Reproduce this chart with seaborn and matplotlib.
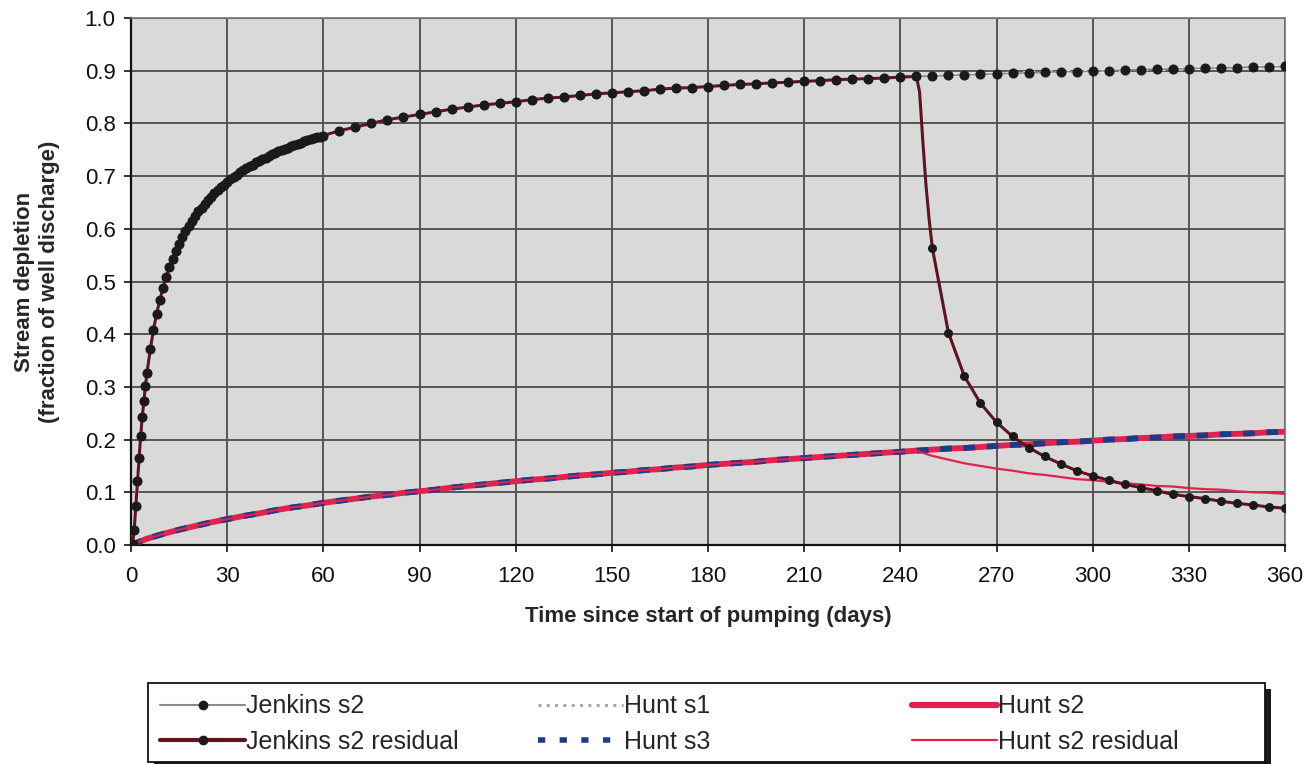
import numpy as np
import pandas as pd
import seaborn as sns
import matplotlib
matplotlib.use("Agg")
import matplotlib.pyplot as plt
from matplotlib.lines import Line2D
from matplotlib.patches import Rectangle

# ---------------- data ----------------
early_t = [0, 0.5, 1, 1.5, 2, 2.5, 3, 3.5, 4, 4.5, 5]
daily_t = list(range(6, 61))
late_t = list(range(65, 361, 5))
jenkins_t = early_t + daily_t + late_t

jenkins_s2 = [
    0.000, 0.002, 0.029, 0.074, 0.121, 0.166, 0.206, 0.242, 0.273, 0.302, 0.327,
    0.371, 0.408, 0.439, 0.465, 0.488, 0.509, 0.527, 0.543, 0.558, 0.572,
    0.584, 0.595, 0.606, 0.615, 0.624, 0.633, 0.640, 0.648, 0.655, 0.661,
    0.667, 0.673, 0.679, 0.684, 0.689, 0.694, 0.699, 0.703, 0.707, 0.711,
    0.715, 0.719, 0.722, 0.726, 0.729, 0.732, 0.735, 0.738, 0.741, 0.744,
    0.747, 0.749, 0.752, 0.754, 0.757, 0.759, 0.761, 0.763, 0.766, 0.768,
    0.770, 0.772, 0.774, 0.775, 0.777,
    0.786, 0.793, 0.800, 0.807, 0.812, 0.817, 0.822, 0.827, 0.831, 0.835,
    0.838, 0.841, 0.845, 0.848, 0.850, 0.853, 0.856, 0.858, 0.860, 0.862,
    0.865, 0.867, 0.868, 0.870, 0.872, 0.874, 0.875, 0.877, 0.878, 0.880,
    0.881, 0.883, 0.884, 0.885, 0.886, 0.888, 0.889, 0.890, 0.891, 0.892,
    0.893, 0.894, 0.895, 0.896, 0.897, 0.898, 0.898, 0.899, 0.900, 0.901,
    0.902, 0.903, 0.903, 0.904, 0.905, 0.905, 0.906, 0.907, 0.907, 0.908,
]

# Jenkins residual right after pumping stops (line only, no markers)
resid_fine_t = [246, 247, 248, 249]
jenkins_resid_fine = [0.860, 0.768, 0.683, 0.617]
# Jenkins residual, t = 250 ... 360 every 5 days (marked points)
resid_t = list(range(250, 361, 5))
jenkins_resid_after = [
    0.563, 0.403, 0.320, 0.269, 0.233, 0.206, 0.185, 0.168, 0.154, 0.141,
    0.131, 0.123, 0.115, 0.109, 0.103, 0.096, 0.092, 0.088, 0.083, 0.079,
    0.076, 0.072, 0.070,
]

hunt_t = list(range(0, 361, 5))
hunt_s2 = [
    0.000, 0.012, 0.021, 0.029, 0.036, 0.043, 0.049, 0.055, 0.060, 0.066,
    0.071, 0.075, 0.080, 0.084, 0.088, 0.092, 0.095, 0.099, 0.102, 0.105,
    0.109, 0.112, 0.115, 0.118, 0.121, 0.124, 0.126, 0.129, 0.132, 0.134,
    0.137, 0.139, 0.142, 0.144, 0.147, 0.149, 0.152, 0.154, 0.156, 0.158,
    0.161, 0.163, 0.165, 0.167, 0.169, 0.171, 0.173, 0.175, 0.177, 0.179,
    0.181, 0.183, 0.184, 0.186, 0.188, 0.190, 0.191, 0.193, 0.195, 0.196,
    0.198, 0.200, 0.201, 0.203, 0.204, 0.206, 0.207, 0.208, 0.210, 0.211,
    0.212, 0.214, 0.215,
]
hunt_s3 = list(hunt_s2)
hunt_s1 = list(jenkins_s2)

# Hunt s2 residual after pumping stops (t = 245 ... 360)
hunt_resid_t = list(range(245, 361, 5))
hunt_s2_resid_after = [
    0.179, 0.169, 0.162, 0.155, 0.150, 0.145, 0.141, 0.136, 0.133, 0.129,
    0.125, 0.123, 0.120, 0.117, 0.115, 0.112, 0.111, 0.108, 0.106, 0.105,
    0.102, 0.100, 0.099, 0.097,
]

x_ticks = list(range(0, 361, 30))
y_ticks = [round(0.1 * i, 1) for i in range(11)]

legend_cols = [
    ["Jenkins s2", "Jenkins s2 residual"],
    ["Hunt s1", "Hunt s3"],
    ["Hunt s2", "Hunt s2 residual"],
]

# build combined residual series
cut_j = jenkins_t.index(245)
jres_line_t = jenkins_t[:cut_j + 1] + resid_fine_t + resid_t
jres_line_v = jenkins_s2[:cut_j + 1] + jenkins_resid_fine + jenkins_resid_after
jres_mark_t = jenkins_t[:cut_j + 1] + resid_t
jres_mark_v = jenkins_s2[:cut_j + 1] + jenkins_resid_after
cut_h = hunt_t.index(240)
hres_t = hunt_t[:cut_h + 1] + hunt_resid_t
hres_v = hunt_s2[:cut_h + 1] + hunt_s2_resid_after

# ---------------- plot ----------------
sns.set_theme(style="white")
plt.rcParams["font.family"] = ["Liberation Sans", "DejaVu Sans"]

W, H = 1312, 764
fig = plt.figure(figsize=(W / 100, H / 100), dpi=100)
ax = fig.add_axes([131 / W, 1 - 545 / H, (1285 - 131) / W, (545 - 18) / H])
ax.set_facecolor("#d9d9d9")

grey_line = "#8a8a8a"
maroon = "#5e1420"
crimson = "#e0224e"
navy = "#1c3c86"
dot = "#1a1a1a"

sns.lineplot(x=hunt_t, y=hunt_s2, ax=ax, color=crimson, lw=4.2,
             estimator=None, sort=False, zorder=3)
sns.lineplot(x=hunt_t, y=hunt_s3, ax=ax, color=navy, lw=4.2,
             linestyle=(0, (2, 2)), estimator=None, sort=False, zorder=4)
sns.lineplot(x=hres_t, y=hres_v, ax=ax, color=crimson, lw=1.6,
             estimator=None, sort=False, zorder=5)
sns.lineplot(x=jenkins_t, y=hunt_s1, ax=ax, color="#f4f4f4", lw=2.5,
             linestyle=(0, (1, 1.5)), estimator=None, sort=False, zorder=5)
sns.lineplot(x=jenkins_t, y=jenkins_s2, ax=ax, color=grey_line, lw=1.2,
             marker="o", markersize=6.5, markerfacecolor=dot,
             markeredgecolor=dot, estimator=None, sort=False, zorder=6)
sns.lineplot(x=jres_line_t, y=jres_line_v, ax=ax, color=maroon, lw=2.2,
             estimator=None, sort=False, zorder=7)
sns.scatterplot(x=jres_mark_t, y=jres_mark_v, ax=ax, color=dot, s=42,
                edgecolor=dot, linewidth=0, zorder=8)

ax.set_xlim(0, 360)
ax.set_ylim(0, 1.0)
ax.set_xticks(x_ticks)
ax.set_yticks(y_ticks)
ax.set_yticklabels([f"{v:.1f}" for v in y_ticks])
ax.grid(True, color="#555555", lw=1.4)
ax.set_axisbelow(True)
for s in ["top", "right"]:
    ax.spines[s].set_color("#777777")
    ax.spines[s].set_linewidth(1.2)
for s in ["left", "bottom"]:
    ax.spines[s].set_color("#111111")
    ax.spines[s].set_linewidth(1.6)
ax.tick_params(axis="both", labelsize=16, colors="#111111", length=5,
               width=1.2, direction="out", left=True, bottom=True)
ax.tick_params(axis="x", pad=10)
ax.tick_params(axis="y", pad=6)

ax.set_xlabel("Time since start of pumping (days)", fontsize=16,
              fontweight="bold", labelpad=14)
ax.set_ylabel("Stream depletion\n(fraction of well discharge)", fontsize=16,
              fontweight="bold", labelpad=18, linespacing=1.25)

# ---------------- legend (three fixed columns in a shadowed box) ----------------
bx0, by0, bx1, by1 = 148, 683, 1265, 762
shadow = Rectangle((bx0 / W + 6 / W, 1 - by1 / H - 6 / H), (bx1 - bx0) / W,
                   (by1 - by0) / H, transform=fig.transFigure,
                   facecolor="#1a1a1a", edgecolor="none", zorder=1)
frame = Rectangle((bx0 / W, 1 - by1 / H), (bx1 - bx0) / W, (by1 - by0) / H,
                  transform=fig.transFigure, facecolor="white",
                  edgecolor="#111111", lw=1.3, zorder=2)
fig.patches.extend([shadow, frame])

handle_map = {
    "Jenkins s2": Line2D([], [], color=grey_line, lw=1.5, marker="o",
                         markersize=6, markerfacecolor=dot, markeredgecolor=dot),
    "Jenkins s2 residual": Line2D([], [], color=maroon, lw=3, marker="o",
                                  markersize=6, markerfacecolor=dot,
                                  markeredgecolor=dot),
    "Hunt s1": Line2D([], [], color="#9a9a9a", lw=2, linestyle=(0, (1, 2))),
    "Hunt s3": Line2D([], [], color=navy, lw=4, linestyle=(0, (1.3, 2.6))),
    "Hunt s2": Line2D([], [], color=crimson, lw=4.5),
    "Hunt s2 residual": Line2D([], [], color=crimson, lw=1.6),
}
col_x = [160, 538, 912]
for cx, labs in zip(col_x, legend_cols):
    lg = fig.legend([handle_map[l] for l in labs], labs, loc="center left",
                    bbox_to_anchor=(cx / W, 1 - 724 / H), fontsize=18,
                    frameon=False, handlelength=3.4, handletextpad=0.05,
                    borderpad=0, borderaxespad=0, labelspacing=0.45)
    lg.set_zorder(5)

fig.savefig("out.png", dpi=100, facecolor="white")
